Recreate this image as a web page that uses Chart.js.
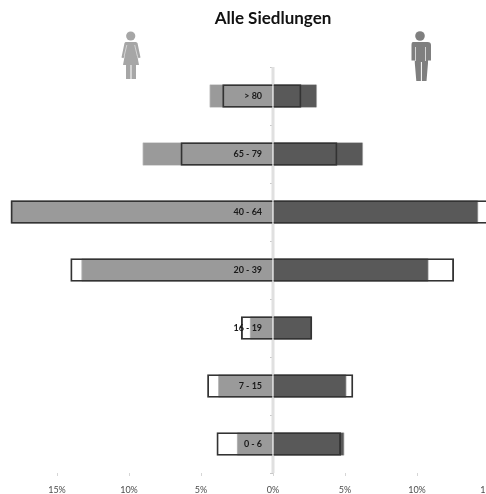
<!DOCTYPE html>
<html>
<head>
<meta charset="utf-8">
<title>Alle Siedlungen</title>
<script src="https://cdn.jsdelivr.net/npm/chart.js@4"></script>
<style>
    html, body { margin: 0; padding: 0; background: #fff; overflow: hidden; width: 486px; height: 494px; }
    #wrap { position: relative; width: 486px; height: 494px; overflow: hidden; }
    /* the axis runs past the window on both sides, centred on 0% */
    #chart { position: absolute; left: -27px; top: 0; }
    .icon { position: absolute; top: 0; left: 0; }
</style>
</head>
<body>
<div id="wrap">
    <canvas id="chart" width="600" height="494"></canvas>
    <svg class="icon" width="486" height="90">
        <g fill="#a6a6a6">
            <circle cx="130.700" cy="36" r="4.600"/>
            <path d="M125.500 42h10.500l1.500 1 3 14.500-2 .8-1.500-4 2 10.700h-3V79h-4.500V65h-1v14h-4.500V65h-3l2-10.700-1.500 4-2-.8 3-14.500z"/>
        </g>
        <path d="M126.800 45l-2.600 11M134.700 45l2.600 11" stroke="#d4d4d4" stroke-width="1" fill="none"/>
        <g fill="#7f7f7f">
            <circle cx="420" cy="36" r="4.800"/>
            <path d="M413 42h14.500q3.500 0 3.500 3v15.500h-3V63l-1.500 18h-4.600V62h-1v19h-4.600L414.800 63v-2.500h-3.300V45q0-3 1.500-3z"/>
        </g>
        <path d="M415.500 47v14M425.500 47v14" stroke="#d4d4d4" stroke-width="1" fill="none"/>
    </svg>
</div>
<script>
var categories = ['> 80', '65 - 79', '40 - 64', '20 - 39', '16 - 19', '7 - 15', '0 - 6'];
var tickLabels = [-15, -10, -5, 0, 5, 10, 15];

// filled bars, women to the left of the axis
var womenFilled = [-4.4, -9.05, -18.2, -13.3, -1.6, -3.8, -2.5];
var menFilled = [3.05, 6.25, 14.25, 10.8, 2.7, 5.1, 4.95];

// outlined bars laid over the filled ones
var womenOutline = [-3.5, -6.4, -18.2, -14.05, -2.2, -4.55, -3.9];
var menOutline = [1.95, 4.45, 15.2, 12.55, 2.7, 5.55, 4.7];

var fontFamily = 'Lato, "Noto Sans", sans-serif';
var barHeight = 23;

function filled(data, color) {
    return {
        data: data,
        backgroundColor: color,
        borderColor: '#bdbdbd',
        borderWidth: { left: 1, right: 1, top: 0, bottom: 0 },
        barThickness: barHeight,
        grouped: false,
        order: 2
    };
}

function outline(data) {
    return {
        data: data,
        backgroundColor: 'rgba(0,0,0,0)',
        borderColor: '#333333',
        borderWidth: 1.2,
        barThickness: barHeight,
        grouped: false,
        order: 1
    };
}

// light axis line at 0%, only in the gaps between the bars
var centerLine = {
    id: 'centerLine',
    beforeDatasetsDraw: function (chart) {
        var ctx = chart.ctx;
        var x = chart.scales.x.getPixelForValue(0);
        var from = chart.chartArea.top;
        ctx.save();
        ctx.strokeStyle = '#e0e0e0';
        ctx.lineWidth = 3;
        ctx.beginPath();
        categories.forEach(function (label, i) {
            var y = chart.scales.y.getPixelForValue(i);
            ctx.moveTo(x, from);
            ctx.lineTo(x, y - barHeight / 2);
            from = y + barHeight / 2;
        });
        ctx.moveTo(x, from);
        ctx.lineTo(x, chart.chartArea.bottom);
        ctx.stroke();
        ctx.restore();
    }
};

var lineChart = new Chart(document.getElementById('chart'), {
    type: 'bar',
    data: {
        labels: categories,
        datasets: [
            filled(womenFilled, '#9a9a9a'),
            filled(menFilled, '#595959'),
            outline(womenOutline),
            outline(menOutline)
        ]
    },
    plugins: [centerLine],
    options: {
        indexAxis: 'y',
        responsive: false,
        animation: false,
        layout: { padding: { left: 12, right: 12, top: 0, bottom: 0 } },
        plugins: {
            legend: { display: false },
            tooltip: { enabled: false },
            title: {
                display: true,
                text: 'Alle Siedlungen',
                color: '#111',
                font: { family: fontFamily, size: 17, weight: 'bold', lineHeight: 1.2 },
                padding: { top: 8, bottom: 38.6 }
            }
        },
        scales: {
            x: {
                type: 'linear',
                min: -20,
                max: 20,
                afterBuildTicks: function (scale) {
                    scale.ticks = tickLabels.map(function (v) { return { value: v }; });
                },
                afterFit: function (scale) { scale.height = 21; },
                border: { display: false },
                grid: { drawOnChartArea: false, tickLength: 3, color: '#d6d6d6' },
                ticks: {
                    maxRotation: 0,
                    autoSkip: false,
                    padding: 9,
                    color: '#4d4d4d',
                    font: { family: fontFamily, size: 9 },
                    callback: function (value) { return Math.abs(value) + '%'; }
                }
            },
            y: {
                position: { x: 0 },
                border: { display: false },
                grid: { drawOnChartArea: false, tickLength: 3, color: '#c8c8c8' },
                ticks: {
                    z: 1,
                    color: '#1a1a1a',
                    font: { family: fontFamily, size: 9, weight: 'bold' },
                    // labels sit inside the bars, a little off the axis line
                    callback: function (value) {
                        return this.getLabelForValue(value) + '\u00a0\u00a0\u00a0\u00a0\u00a0';
                    }
                }
            }
        }
    }
});
</script>
</body>
</html>
